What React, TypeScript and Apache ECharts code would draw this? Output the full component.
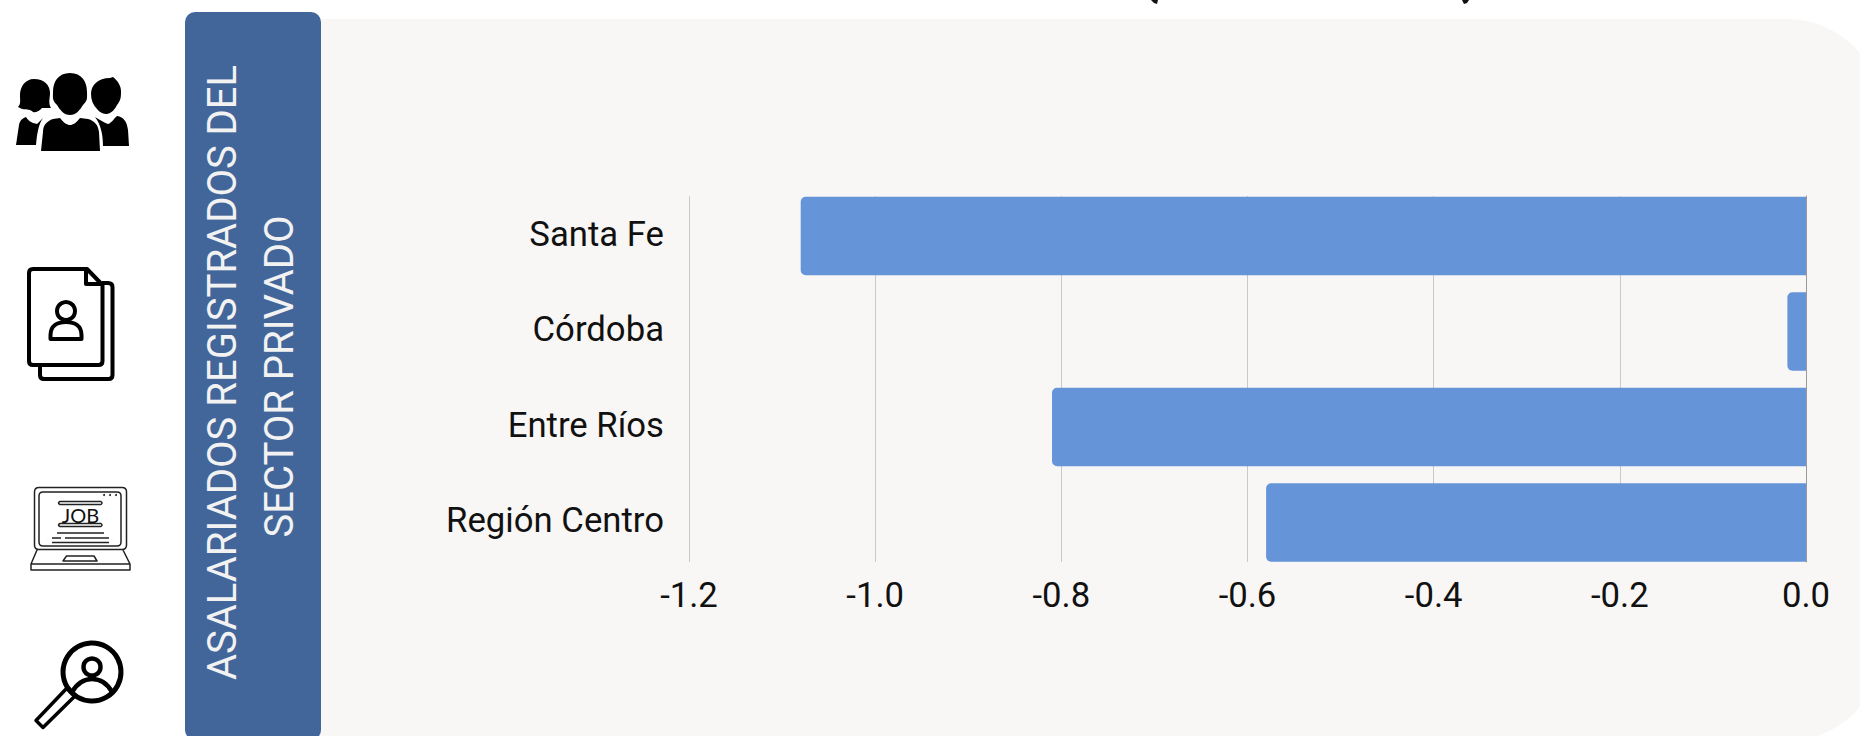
import React, { useEffect, useRef } from "react";
import * as echarts from "echarts";

const categories = ["Santa Fe", "Córdoba", "Entre Ríos", "Región Centro"];
const values = [-1.08, -0.02, -0.81, -0.58];
const stripLines = ["ASALARIADOS REGISTRADOS DEL", "SECTOR PRIVADO"];

const FONT = "Roboto";
const INK = "#111111";

const shapes: Record<string, string> = {
  peopleIcon:
    "M70 73C58 73 53 82 53 92C53 98 52 100 57 105C60 110 64 115 70 115C76 115 80 110 83 105C88 100 87 98 87 92C87 82 82 73 70 73Z" +
    "M41 151L43 132C43 125 47 121 53 119L60 118C64 123 67 125 70 125C73 125 76 123 80 118L88 119C95 121 98 125 99 132L100 151Z" +
    "M34 79C25 79 20 87 20 95C20 101 21 104 18 107L22 109C28 110 30 109 33 112C37 113 40 110 42 108L51 108C48 103 50 98 50 93C50 85 44 79 34 79Z" +
    "M16 145L19 125C20 120 23 118 26 117C29 122 33 123 37 124L43 118C38 125 37 135 36 145Z" +
    "M110 78C98 78 91 85 91 94C91 100 93 105 97 109C100 113 104 114 107 114C112 113 115 109 117 105C121 100 121 97 121 91C121 86 118 81 113 77Z" +
    "M103 146C103 135 101 125 95 117C100 120 105 123 108 124C112 123 114 118 117 116C124 117 127 122 128 130L129 146Z",
  docIcon:
    "M33 269L87 269L102.500 285L102.500 361Q102.500 365 98.500 365L33 365Q29 365 29 361L29 273Q29 269 33 269Z" +
    "M86 269L86 284L102.500 284" +
    "M102 283L108 283Q112.500 283 112.500 287L112.500 375Q112.500 379 108.500 379L44 379Q40 379 40 375L40 365" +
    "M50.500 339L50.500 335C50.500 326 57 322 66 322C75 322 81.500 326 81.500 335L81.500 339Z",
  laptopIcon:
    "M39 487.500L122 487.500Q126.500 487.500 126.500 492L126.500 545Q126.500 549.500 122 549.500L39 549.500Q34.500 549.500 34.500 545L34.500 492Q34.500 487.500 39 487.500Z" +
    "M43 492L117 492Q121 492 121 496L121 542Q121 546 117 546L43 546Q39 546 39 542L39 496Q39 492 43 492Z" +
    "M60 501.500L101 501.500Q103 503 101 504.500L60 504.500Q57 503 60 501.500Z" +
    "M60 523.500L101 523.500Q103 525 101 526.500L60 526.500Q57 525 60 523.500Z" +
    "M57 533L104 533M52 538L61 538M65 538L109 538M52 542.500L109 542.500" +
    "M37 550L31 564L31 570L130 570L130 564L123 550M31 564L130 564" +
    "M63 561L66.500 556L94 556L97 561Z",
  lensArc: "M72 692C78 682 86 679 92 679C100 679 107 683 112 692",
  lensHandle: "M67 688L75 696L43 727.500L36 720.500Z",
  titleTailA: "M1151 0L1158 0L1157 4L1154 3Z",
  titleTailB: "M1462 0L1469 0L1467 3L1464 4Z",
};
Object.keys(shapes).forEach((name) => {
  echarts.graphic.registerShape(name, echarts.graphic.extendPath(shapes[name], {}));
});

const stroke = (lineWidth: number, color = "#000", fill = "transparent") => ({
  fill,
  stroke: color,
  lineWidth,
  lineJoin: "round",
});

const graphicElements = [
  { type: "rect", z: -2, shape: { x: 300, y: 19, width: 1582, height: 722, r: [0, 95, 95, 0] }, style: { fill: "#f8f7f5" } },
  { type: "rect", z: -1, shape: { x: 185, y: 12, width: 136, height: 728, r: 10 }, style: { fill: "#43669a" } },
  {
    type: "text", x: 222.5, y: 372.5, rotation: Math.PI / 2, z: 5,
    style: { text: stripLines[0], font: `400 40px ${FONT}`, fill: "#f2f2f2", align: "center", verticalAlign: "middle" },
  },
  {
    type: "text", x: 279, y: 376.5, rotation: Math.PI / 2, z: 5,
    style: { text: stripLines[1], font: `400 40px ${FONT}`, fill: "#f2f2f2", align: "center", verticalAlign: "middle" },
  },
  { type: "peopleIcon", z: 5, style: { fill: "#000" } },
  { type: "docIcon", z: 5, style: stroke(4) },
  { type: "circle", z: 5, shape: { cx: 66, cy: 311, r: 9 }, style: stroke(4) },
  { type: "laptopIcon", z: 5, style: stroke(1.5, "#222") },
  { type: "circle", z: 5, shape: { cx: 104, cy: 495, r: 1 }, style: { fill: "#222" } },
  { type: "circle", z: 5, shape: { cx: 110, cy: 495, r: 1 }, style: { fill: "#222" } },
  { type: "circle", z: 5, shape: { cx: 116, cy: 495, r: 1 }, style: { fill: "#222" } },
  {
    type: "text", x: 80.5, y: 514.5, z: 5,
    style: { text: "JOB", font: `400 20px Lato`, fill: "#111", align: "center", verticalAlign: "middle" },
  },
  { type: "lensHandle", z: 5, style: stroke(3.5, "#000", "#fff") },
  { type: "circle", z: 6, shape: { cx: 92, cy: 672, r: 29 }, style: stroke(5) },
  { type: "circle", z: 6, shape: { cx: 92, cy: 667, r: 8.5 }, style: stroke(4.5) },
  { type: "lensArc", z: 6, style: stroke(4.5) },
  { type: "titleTailA", z: 5, style: { fill: "#111" } },
  { type: "titleTailB", z: 5, style: { fill: "#111" } },
];

export default function App() {
  const ref = useRef<HTMLDivElement>(null);
  useEffect(() => {
    const chart = echarts.init(ref.current!, undefined, { renderer: "svg" });
    const scale = { type: "value", min: -1.2, max: 0, interval: 0.2 };
    const hiddenY = { type: "category", data: categories, inverse: true, show: false, splitLine: { show: false } };
    chart.setOption({
      animation: false,
      backgroundColor: "#ffffff",
      graphic: { elements: graphicElements },
      grid: [
        { left: 689, right: 54, top: 196, height: 366 },
        { left: 689, right: 54, top: 188.3, height: 382 },
        { left: 689, right: 54, top: 185.9, height: 382 },
      ],
      xAxis: [
        {
          ...scale,
          gridIndex: 0,
          axisLine: { show: false },
          axisTick: { show: false },
          axisLabel: {
            margin: 15,
            fontFamily: FONT,
            fontSize: 34.7,
            color: INK,
            formatter: (v: number) => v.toFixed(1),
          },
          splitLine: { show: true, lineStyle: { color: "#c9c9c9", width: 1 } },
        },
        { ...scale, gridIndex: 1, show: false, splitLine: { show: false } },
        { ...scale, gridIndex: 2, show: false, splitLine: { show: false } },
      ],
      yAxis: [
        {
          type: "category",
          gridIndex: 0,
          position: "right",
          data: categories,
          inverse: true,
          axisLine: { show: true, onZero: false, lineStyle: { color: "#9a9a9a", width: 1 } },
          axisTick: { show: false },
          axisLabel: { show: false },
          splitLine: { show: false },
        },
        { ...hiddenY, gridIndex: 1 },
        {
          type: "category",
          gridIndex: 2,
          position: "left",
          data: categories,
          inverse: true,
          axisLine: { show: false },
          axisTick: { show: false },
          axisLabel: { margin: 25, fontFamily: FONT, fontSize: 34.7, color: INK },
          splitLine: { show: false },
        },
      ],
      series: [
        {
          type: "bar",
          xAxisIndex: 1,
          yAxisIndex: 1,
          data: values,
          barWidth: 78.5,
          itemStyle: { color: "#6595d8", borderRadius: [5, 0, 0, 5] },
        },
      ],
    });
    return () => chart.dispose();
  }, []);
  return <div ref={ref} style={{ position: "absolute", left: 0, top: 0, width: 1860, height: 736 }} />;
}
